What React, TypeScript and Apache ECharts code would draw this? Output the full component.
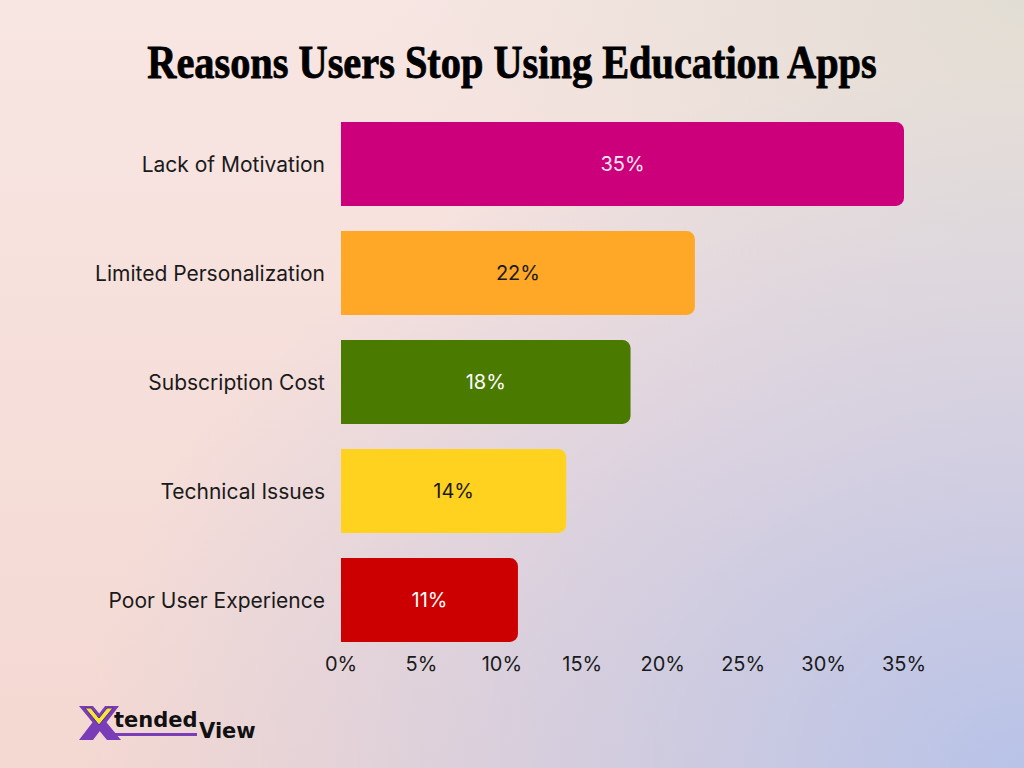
import React, { useEffect, useRef } from "react";
import * as echarts from "echarts";

const categories = [
  "Lack of Motivation",
  "Limited Personalization",
  "Subscription Cost",
  "Technical Issues",
  "Poor User Experience",
];
const values = [35, 22, 18, 14, 11];
const barColors = ["#cc007a", "#ffa726", "#4a7a00", "#ffd21f", "#cc0000"];
const labelColors = ["#fbe6f1", "#1a1a1a", "#ffffff", "#1a1a1a", "#ffffff"];
const titleText = "Reasons Users Stop Using Education Apps";

export default function App() {
  const ref = useRef<HTMLDivElement>(null);
  useEffect(() => {
    if (!ref.current) return;
    const chart = echarts.init(ref.current, undefined, { renderer: "svg" });
    chart.setOption({
      animation: false,
      backgroundColor: "transparent",
      grid: { left: 341, right: 120, top: 109.5, bottom: 113.5, containLabel: false },
      xAxis: {
        type: "value",
        min: 0,
        max: 35,
        interval: 5,
        axisLine: { show: false },
        axisTick: { show: false },
        splitLine: { show: false },
        axisLabel: {
          formatter: "{value}%",
          fontFamily: "Inter",
          fontSize: 20,
          color: "#1a1a1a",
          margin: -1,
        },
      },
      yAxis: {
        type: "category",
        data: categories,
        inverse: true,
        axisLine: { show: false },
        axisTick: { show: false },
        axisLabel: {
          fontFamily: "Inter",
          fontSize: 21,
          color: "#1a1a1a",
          margin: 16,
          padding: [0, 0, 3, 0],
        },
      },
      series: [
        {
          type: "bar",
          barCategoryGap: "23%",
          data: values.map((v, i) => ({
            value: v,
            itemStyle: { color: barColors[i], borderRadius: [0, 8, 8, 0] },
            label: { color: labelColors[i] },
          })),
          label: {
            show: true,
            position: "inside",
            formatter: "{c}%",
            fontFamily: "Inter",
            fontSize: 20,
          },
        },
      ],
      graphic: [
        {
          type: "text",
          x: 512,
          y: 62,
          scaleX: 0.877,
          originX: 0,
          originY: 0,
          style: {
            text: titleText,
            fontFamily: "Liberation Serif",
            fontWeight: "bold",
            fontSize: 46,
            fill: "#000000",
            stroke: "#000000",
            lineWidth: 0.8,
            textAlign: "center",
            textVerticalAlign: "middle",
          },
        },
        {
          type: "group",
          children: [
            { type: "polygon", shape: { points: [[79, 706], [93, 706], [121, 740], [107, 740]] }, style: { fill: "#7a3db8" } },
            { type: "polygon", shape: { points: [[105, 706], [119, 706], [93, 740], [79, 740]] }, style: { fill: "#7a3db8" } },
            { type: "polygon", shape: { points: [[85, 708], [91, 708], [99, 718], [107, 708], [113, 708], [99, 725]] }, style: { fill: "#f5e63a", stroke: "#5a2a8a", lineWidth: 1 } },
            { type: "rect", shape: { x: 114, y: 733, width: 83, height: 3 }, style: { fill: "#7a3db8" } },
            { type: "text", x: 114, y: 730, style: { text: "tended", fontFamily: "DejaVu Sans", fontWeight: "bold", fontSize: 21, fill: "#111", textVerticalAlign: "bottom" } },
            { type: "text", x: 199, y: 741, style: { text: "View", fontFamily: "DejaVu Sans", fontWeight: "bold", fontSize: 21, fill: "#111", textVerticalAlign: "bottom" } },
          ],
        },
      ],
    });
    return () => chart.dispose();
  }, []);
  return (
    <div
      style={{
        position: "fixed",
        left: 0,
        top: 0,
        width: 1024,
        height: 768,
        background:
          "radial-gradient(ellipse at 100% 100%, rgba(184,195,232,1) 0%, rgba(184,195,232,0) 65%), radial-gradient(ellipse at 100% 0%, rgba(226,221,212,1) 0%, rgba(226,221,212,0) 45%), linear-gradient(180deg, #f8e6e3 0%, #f4d8d2 100%)",
      }}
    >
      <div ref={ref} style={{ width: 1024, height: 768 }} />
    </div>
  );
}
